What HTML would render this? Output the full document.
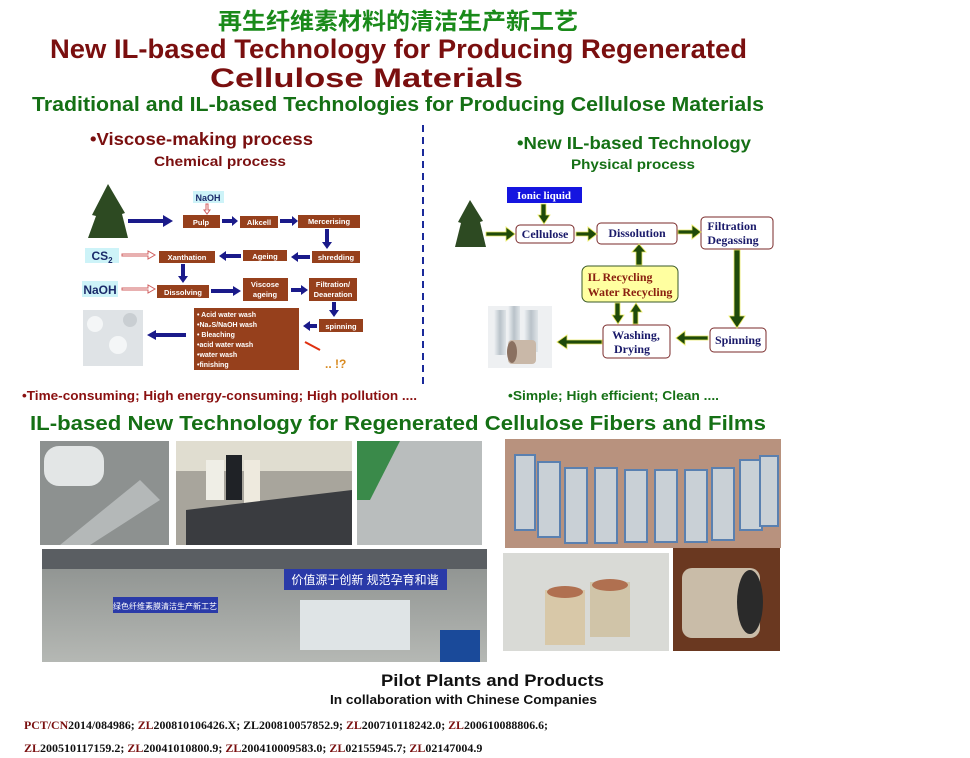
<!DOCTYPE html>
<html><head><meta charset="utf-8"><style>
html,body{margin:0;padding:0;background:#fff;}
body{width:970px;height:758px;overflow:hidden;position:relative;font-family:"Liberation Sans",sans-serif;}
svg{position:absolute;left:0;top:0;}
</style></head><body>
<svg width="970" height="758" viewBox="0 0 970 758" xmlns="http://www.w3.org/2000/svg">
<defs>
<linearGradient id="gs" x1="0" x2="1"><stop offset="0" stop-color="#eef1f4"/><stop offset="0.5" stop-color="#b9c2c9"/><stop offset="1" stop-color="#dfe4e8"/></linearGradient>
<linearGradient id="gy" x1="0" y1="0" x2="0" y2="1"><stop offset="0" stop-color="#8a8e8c"/><stop offset="1" stop-color="#b5b8b4"/></linearGradient>
</defs>
<g font-family="Liberation Sans, sans-serif" font-weight="bold">
<text x="218" y="29" font-size="23" fill="#1a8a1a" textLength="360" lengthAdjust="spacingAndGlyphs" font-family="Liberation Sans, Noto Sans CJK SC, sans-serif">再生纤维素材料的清洁生产新工艺</text>
<text x="50" y="58" font-size="27" fill="#7a0f0f" textLength="697" lengthAdjust="spacingAndGlyphs">New IL-based Technology for Producing Regenerated</text>
<text x="210" y="87" font-size="27" fill="#7a0f0f" textLength="313" lengthAdjust="spacingAndGlyphs">Cellulose Materials</text>
<text x="32" y="111" font-size="20" fill="#157015" textLength="732" lengthAdjust="spacingAndGlyphs">Traditional and IL-based Technologies for Producing Cellulose Materials</text>
<text x="30" y="430" font-size="20" fill="#157015" textLength="736" lengthAdjust="spacingAndGlyphs">IL-based New Technology for Regenerated Cellulose Fibers and Films</text>
</g>
<line x1="423" y1="125" x2="423" y2="385" stroke="#1a2a9a" stroke-width="2" stroke-dasharray="7,5"/>
<g font-weight="bold">
<text x="90" y="145" font-size="17.5" fill="#7a0f0f" textLength="223" lengthAdjust="spacingAndGlyphs">•Viscose-making process</text>
<text x="154" y="166" font-size="13.5" fill="#7a0f0f" textLength="132" lengthAdjust="spacingAndGlyphs">Chemical process</text>
<text x="517" y="149" font-size="17.5" fill="#157015" textLength="234" lengthAdjust="spacingAndGlyphs">•New IL-based Technology</text>
<text x="571" y="169" font-size="13.5" fill="#157015" textLength="124" lengthAdjust="spacingAndGlyphs">Physical process</text>
<text x="22" y="400" font-size="13" fill="#8a1010" textLength="395" lengthAdjust="spacingAndGlyphs">•Time-consuming; High energy-consuming;  High pollution ....</text>
<text x="508" y="400" font-size="13" fill="#157015" textLength="211" lengthAdjust="spacingAndGlyphs">•Simple; High efficient; Clean ....</text>
</g>

<!-- LEFT DIAGRAM -->
<g>
<path d="M108 184 L92 215 L96 216 L88 238 L128 238 L122 214 L125 213 Z" fill="#2d4a22"/>
<rect x="83" y="310" width="60" height="56" fill="#dfe3e6"/>
<circle cx="95" cy="324" r="8" fill="#f4f6f7"/><circle cx="118" cy="345" r="9" fill="#f4f6f7"/><circle cx="130" cy="320" r="7" fill="#c9ced2"/>
<rect x="193" y="191" width="31" height="12" fill="#cdf3f8"/>
<text x="208" y="201" font-size="9" font-weight="bold" fill="#1a2a6a" text-anchor="middle">NaOH</text>
<rect x="85" y="248" width="34" height="15" fill="#cdf3f8"/>
<text x="102" y="260" font-size="12" font-weight="bold" fill="#1a2a6a" text-anchor="middle">CS<tspan font-size="8" dy="3">2</tspan></text>
<rect x="82" y="281" width="36" height="16" fill="#cdf3f8"/>
<text x="100" y="294" font-size="12" font-weight="bold" fill="#1a2a6a" text-anchor="middle">NaOH</text>
<g fill="#96401c">
<rect x="183" y="215" width="37" height="13"/><rect x="240" y="216" width="38" height="12"/><rect x="298" y="215" width="62" height="13"/>
<rect x="312" y="251" width="48" height="12"/><rect x="243" y="250" width="44" height="11"/><rect x="159" y="251" width="56" height="12"/>
<rect x="157" y="285" width="52" height="13"/><rect x="243" y="278" width="45" height="23"/><rect x="309" y="278" width="48" height="23"/>
<rect x="319" y="319" width="44" height="13"/><rect x="194" y="308" width="105" height="62"/>
</g>
<g font-size="7.5" fill="#fff" font-weight="bold" text-anchor="middle">
<text x="201" y="225">Pulp</text><text x="259" y="225">Alkcell</text><text x="329" y="224">Mercerising</text>
<text x="336" y="260">shredding</text><text x="265" y="259">Ageing</text><text x="187" y="260">Xanthation</text>
<text x="183" y="295">Dissolving</text><text x="265" y="287">Viscose</text><text x="265" y="297">ageing</text>
<text x="333" y="287">Filtration/</text><text x="333" y="297">Deaeration</text><text x="341" y="329">spinning</text>
</g>
<g font-size="7" fill="#fff" font-weight="bold">
<text x="197" y="317">• Acid water wash</text><text x="197" y="327">•Na₂S/NaOH wash</text><text x="197" y="337">• Bleaching</text>
<text x="197" y="347">•acid water wash</text><text x="197" y="357">•water wash</text><text x="197" y="367">•finishing</text>
</g>
<text x="325" y="368" font-size="12" font-weight="bold" fill="#d88a20">.. !?</text>
<line x1="305" y1="342" x2="320" y2="350" stroke="#e03010" stroke-width="2"/>
<g fill="#1a1a8a">
<path d="M128 219 h35 v-4 l10 6 l-10 6 v-4 h-35z"/>
<path d="M222 219 h10 v-3 l6 5 l-6 5 v-3 h-10z"/>
<path d="M280 219 h12 v-3 l6 5 l-6 5 v-3 h-12z"/>
<path d="M325 229 h4 v13 h3 l-5 7 l-5 -7 h3z"/>
<path d="M310 255 h-12 v-3 l-7 5 l7 5 v-3 h12z"/>
<path d="M241 254 h-15 v-3 l-7 5 l7 5 v-3 h15z"/>
<path d="M181 264 h4 v12 h3 l-5 7 l-5 -7 h3z"/>
<path d="M211 289 h22 v-3 l8 5 l-8 5 v-3 h-22z"/>
<path d="M291 288 h10 v-3 l7 5 l-7 5 v-3 h-10z"/>
<path d="M332 302 h4 v8 h3 l-5 7 l-5 -7 h3z"/>
<path d="M317 324 h-7 v-3 l-7 5 l7 5 v-3 h7z"/>
<path d="M186 333 h-30 v-3 l-9 5 l9 5 v-3 h30z"/>
</g>
<g fill="#fff" stroke="#d06060" stroke-width="1">
<path d="M206 204 v6 h-2 l3 4 l3 -4 h-2 v-6z"/>
<path d="M122 254 h26 v-3 l7 4 l-7 4 v-3 h-26z"/>
<path d="M122 288 h26 v-3 l7 4 l-7 4 v-3 h-26z"/>
</g>
</g>

<!-- RIGHT DIAGRAM -->
<g>
<path d="M470 200 L458 222 L461 223 L455 247 L486 247 L480 222 L483 221 Z" fill="#2d4a22"/>
<rect x="488" y="306" width="64" height="62" fill="#eef0f2"/>
<rect x="494" y="310" width="12" height="45" fill="url(#gs)"/><rect x="508" y="306" width="12" height="48" fill="url(#gs)"/><rect x="524" y="310" width="14" height="42" fill="url(#gs)"/>
<rect x="508" y="340" width="28" height="24" rx="4" fill="#c9b8a8"/><ellipse cx="512" cy="352" rx="5" ry="11" fill="#8a7060"/>
<rect x="507" y="187" width="75" height="16" fill="#1515e0"/>
<text x="544" y="199" font-family="Liberation Serif, serif" font-size="11" font-weight="bold" fill="#fff" text-anchor="middle">Ionic liquid</text>
<g fill="#fff" stroke="#7a2a2a" stroke-width="1">
<rect x="516" y="225" width="58" height="18" rx="4"/><rect x="597" y="223" width="80" height="21" rx="4"/>
<rect x="701" y="217" width="72" height="32" rx="4"/><rect x="710" y="328" width="56" height="24" rx="4"/>
<rect x="603" y="325" width="67" height="33" rx="4"/>
</g>
<rect x="582" y="266" width="96" height="36" rx="6" fill="#ffffa0" stroke="#3a5a2a"/>
<g font-family="Liberation Serif, serif" font-size="12" font-weight="bold" fill="#1a1a6a" text-anchor="middle">
<text x="545" y="238">Cellulose</text><text x="637" y="237">Dissolution</text>
<text x="732" y="230">Filtration</text><text x="733" y="244">Degassing</text>
<text x="738" y="344">Spinning</text><text x="636" y="339">Washing,</text><text x="632" y="353">Drying</text>
</g>
<g font-family="Liberation Serif, serif" font-size="12" font-weight="bold" fill="#8a2010" text-anchor="middle">
<text x="620" y="281">IL Recycling</text><text x="630" y="296">Water Recycling</text>
</g>
<g fill="#1f4a0a" stroke="#e8e860" stroke-width="0.8">
<path d="M486 232 h20 v-5 l9 7 l-9 7 v-5 h-20z"/>
<path d="M576 232 h12 v-5 l9 7 l-9 7 v-5 h-12z"/>
<path d="M678 230 h14 v-5 l9 7 l-9 7 v-5 h-14z"/>
<path d="M541 204 h5 v11 h4 l-6 9 l-6 -9 h3z"/>
<path d="M734 250 h6 v66 h5 l-8 12 l-8 -12 h5z"/>
<path d="M708 336 h-23 v-5 l-9 7 l9 7 v-5 h23z"/>
<path d="M602 340 h-35 v-5 l-10 7 l10 7 v-5 h35z"/>
<path d="M636 265 h6 v-13 h4 l-7 -8 l-7 8 h4z"/>
<path d="M615 303 h5 v12 h4 l-6 9 l-6 -9 h3z"/>
<path d="M633 324 h5 v-12 h4 l-6 -9 l-6 9 h3z"/>
</g>
</g>

<!-- PHOTOS -->
<rect x="40" y="441" width="129" height="104" fill="#8d9190"/>
<rect x="44" y="446" width="60" height="40" rx="15" fill="#e3e6e6"/><path d="M60 545 L140 480 L160 500 L90 545Z" fill="#b4b8b8"/>
<rect x="176" y="441" width="176" height="104" fill="#a8a59c"/>
<rect x="176" y="441" width="176" height="30" fill="#e0ddd0"/><rect x="206" y="460" width="18" height="40" fill="#efeee6"/><rect x="226" y="455" width="16" height="45" fill="#1f2226"/><rect x="244" y="460" width="16" height="45" fill="#eeeade"/>
<path d="M186 510 L352 490 L352 545 L186 545Z" fill="#3a3c40"/>
<rect x="357" y="441" width="125" height="104" fill="#b9bdbd"/><path d="M357 441 L400 441 L370 500 L357 500Z" fill="#3a8a4a"/>
<rect x="505" y="439" width="276" height="109" fill="#b8927e"/>
<g fill="#c9d0d6" stroke="#5a80b0" stroke-width="2">
<rect x="515" y="455" width="20" height="75"/><rect x="538" y="462" width="22" height="75"/><rect x="565" y="468" width="22" height="75"/><rect x="595" y="468" width="22" height="75"/>
<rect x="625" y="470" width="22" height="72"/><rect x="655" y="470" width="22" height="72"/><rect x="685" y="470" width="22" height="72"/><rect x="712" y="468" width="22" height="72"/><rect x="740" y="460" width="22" height="70"/><rect x="760" y="456" width="18" height="70"/>
</g>
<rect x="42" y="549" width="445" height="113" fill="url(#gy)"/>
<rect x="42" y="549" width="445" height="20" fill="#5a5e62"/>
<rect x="113" y="597" width="105" height="16" fill="#2a3aa8"/>
<text x="165" y="609" font-size="8" fill="#fff" text-anchor="middle" font-family="Liberation Sans, Noto Sans CJK SC, sans-serif">绿色纤维素膜清洁生产新工艺</text>
<rect x="284" y="569" width="163" height="21" fill="#2a3aa8"/>
<text x="365" y="584" font-size="12" fill="#fff" text-anchor="middle" font-family="Liberation Sans, Noto Sans CJK SC, sans-serif">价值源于创新  规范孕育和谐</text>
<rect x="300" y="600" width="110" height="50" fill="#dfe4e6"/><rect x="440" y="630" width="40" height="32" fill="#1a4a9a"/>
<rect x="503" y="553" width="166" height="98" fill="#d9dad6"/>
<rect x="545" y="590" width="40" height="55" fill="#d8c8a8"/><rect x="590" y="582" width="40" height="55" fill="#d0c4a8"/>
<ellipse cx="565" cy="592" rx="18" ry="6" fill="#b07050"/><ellipse cx="610" cy="585" rx="18" ry="6" fill="#b07050"/>
<rect x="673" y="548" width="107" height="103" fill="#6a3820"/>
<rect x="682" y="568" width="78" height="70" rx="10" fill="#c9bca8"/><ellipse cx="750" cy="602" rx="13" ry="32" fill="#2a2a2a"/>

<g font-weight="bold">
<text x="381" y="686" font-size="17" fill="#111" textLength="223" lengthAdjust="spacingAndGlyphs">Pilot Plants and Products</text>
<text x="330" y="704" font-size="13" fill="#111" textLength="267" lengthAdjust="spacingAndGlyphs">In collaboration with Chinese Companies</text>
</g>
<g font-family="Liberation Serif, serif" font-size="12" font-weight="bold" fill="#111">
<text x="24" y="729" textLength="524" lengthAdjust="spacingAndGlyphs"><tspan fill="#7a1010">PCT/CN</tspan>2014/084986; <tspan fill="#7a1010">ZL</tspan>200810106426.X; ZL200810057852.9; <tspan fill="#7a1010">ZL</tspan>200710118242.0;   <tspan fill="#7a1010">ZL</tspan>200610088806.6;</text>
<text x="24" y="752"><tspan fill="#7a1010">ZL</tspan>200510117159.2; <tspan fill="#7a1010">ZL</tspan>20041010800.9; <tspan fill="#7a1010">ZL</tspan>200410009583.0; <tspan fill="#7a1010">ZL</tspan>02155945.7; <tspan fill="#7a1010">ZL</tspan>02147004.9</text>
</g>
</svg>
</body></html>
